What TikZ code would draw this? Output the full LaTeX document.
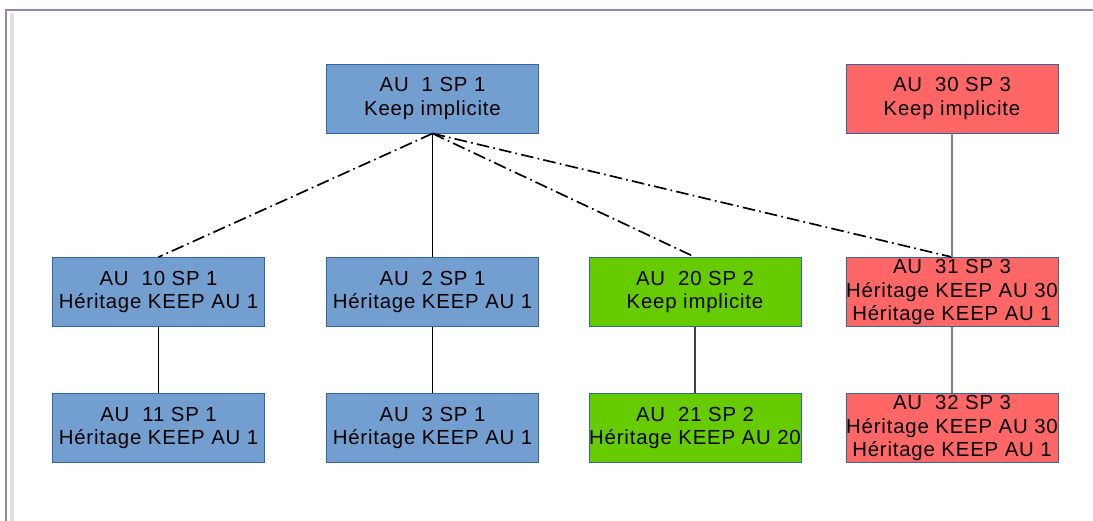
\documentclass[tikz,border=0pt]{standalone}
\usepackage{fontspec}
\setmainfont{Liberation Sans}[LetterSpace=4]
\usetikzlibrary{positioning}

\definecolor{boxblue}{HTML}{729FCF}
\definecolor{boxgreen}{HTML}{66CC00}
\definecolor{boxred}{HTML}{FF6666}
\definecolor{edgeblue}{HTML}{3465A4}
\definecolor{framepurple}{HTML}{9A80B8}

\tikzset{
  au/.style={draw=edgeblue, line width=0.7pt, minimum width=5.3cm, minimum height=1.725cm,
    align=center, font=\fontsize{14.5}{16.5}\selectfont, inner sep=0pt},
  aublue/.style={au, fill=boxblue},
  augreen/.style={au, fill=boxgreen},
  aured/.style={au, fill=boxred},
  heir/.style={line width=1.1pt, black},
  heirgray/.style={line width=2pt, gray},
  keep/.style={line width=1.2pt, black, dash pattern=on 9pt off 3pt on 1.2pt off 3pt}
}

\begin{document}
\begin{tikzpicture}[node distance = 4.84cm, on grid]
  \useasboundingbox (0,0) rectangle (27.325,-13.025);
  % frame
  \fill[gray!25] (0.26,-0.33) rectangle (0.36,-13.025);
  \draw[framepurple, line width=1.4pt] (0.16,-13.025) -- (0.16,-0.24) -- (27.325,-0.24);

  \node[aublue] (AU1) at (10.8125,-2.4625) {AU\ \ 1 SP 1\\Keep implicite};
  \node[aublue] (AU2) [below=of AU1] {AU\ \ 2 SP 1\\Héritage KEEP AU 1};
  \node[aublue] (AU10) [left=6.85cm of AU2] {AU\ \ 10 SP 1\\Héritage KEEP AU 1};
  \node[augreen] (AU20) [right=6.5625cm of AU2] {AU\ \ 20 SP 2\\Keep implicite};
  \node[aured] (AU31) [right=6.425cm of AU20] {AU\ \ 31 SP 3\\Héritage KEEP AU 30\\Héritage KEEP AU 1};
  \node[aured] (AU30) [above=of AU31] {AU\ \ 30 SP 3\\Keep implicite};

  \node[aublue] (AU11) [below=3.4cm of AU10] {AU\ \ 11 SP 1\\Héritage KEEP AU 1};
  \node[aublue] (AU3) [below=3.4cm of AU2] {AU\ \ 3 SP 1\\Héritage KEEP AU 1};
  \node[augreen] (AU21) [below=3.4cm of AU20] {AU\ \ 21 SP 2\\Héritage KEEP AU 20};
  \node[aured] (AU32) [below=3.4cm of AU31] {AU\ \ 32 SP 3\\Héritage KEEP AU 30\\Héritage KEEP AU 1};

  \draw[heir] (AU1.south) -- (AU2.north);
  \draw[keep] (AU1.south) -- (AU10.north);
  \draw[keep] (AU1.south) -- (AU20.north);
  \draw[keep] (AU1.south) -- (AU31.north);
  \draw[heir] (AU10) -- (AU11);
  \draw[heir] (AU2) -- (AU3);
  \draw[heir, black!75] (AU20) -- (AU21);
  \draw[heirgray] (AU30) -- (AU31);
  \draw[heirgray] (AU31) -- (AU32);
\end{tikzpicture}
\end{document}
